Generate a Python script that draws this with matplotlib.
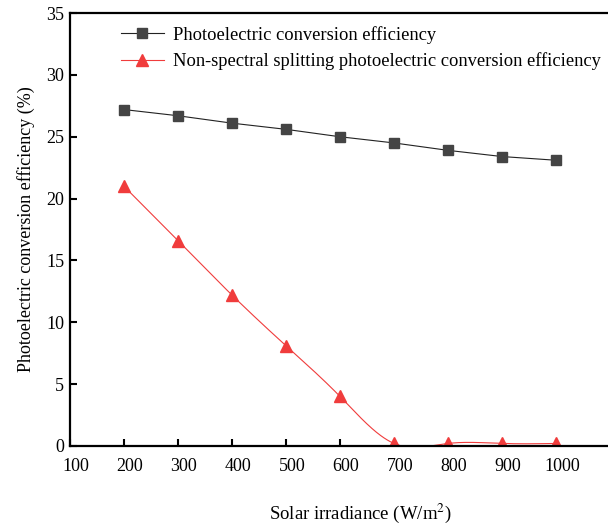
import numpy as np
import matplotlib
matplotlib.use('Agg')
import matplotlib.pyplot as plt
import matplotlib.transforms as mtransforms

plt.rcParams['font.family'] = ['Liberation Serif', 'DejaVu Serif']
plt.rcParams['mathtext.fontset'] = 'stix'

# data
irradiance = [200, 300, 400, 500, 600, 700, 800, 900, 1000]
pce = [27.2, 26.7, 26.1, 25.6, 25.0, 24.5, 23.9, 23.4, 23.1]
pce_nonsplit = [21.0, 16.6, 12.2, 8.1, 4.0, 0.2, 0.2, 0.2, 0.2]


def natural_spline(x, y, n=400):
    # plain natural cubic spline, used only to draw the smoothed red line
    x = np.asarray(x, float)
    y = np.asarray(y, float)
    k = len(x)
    h = np.diff(x)
    A = np.zeros((k, k))
    b = np.zeros(k)
    A[0, 0] = A[-1, -1] = 1
    for i in range(1, k - 1):
        A[i, i - 1] = h[i - 1]
        A[i, i] = 2 * (h[i - 1] + h[i])
        A[i, i + 1] = h[i]
        b[i] = 6 * ((y[i + 1] - y[i]) / h[i] - (y[i] - y[i - 1]) / h[i - 1])
    M = np.linalg.solve(A, b)
    xs = np.linspace(x[0], x[-1], n)
    idx = np.clip(np.searchsorted(x, xs) - 1, 0, k - 2)
    x0, x1 = x[idx], x[idx + 1]
    hh = x1 - x0
    t0, t1 = x1 - xs, xs - x0
    ys = (M[idx] * t0**3 + M[idx + 1] * t1**3) / (6 * hh) \
        + (y[idx] / hh - M[idx] * hh / 6) * t0 \
        + (y[idx + 1] / hh - M[idx + 1] * hh / 6) * t1
    return xs, ys


fig = plt.figure(figsize=(6.08, 5.24), dpi=100)
ax = fig.add_axes([0.115, 0.149, 0.885, 0.826])

ax.plot(irradiance, pce, color='#222222', lw=0.8, marker='s', ms=7,
        mfc='#444444', mec='#444444', label='Photoelectric conversion efficiency')

xs, ys = natural_spline(irradiance, pce_nonsplit)
ax.plot(xs, ys, color='#f03c3c', lw=0.8)
ax.plot(irradiance, pce_nonsplit, ls='none', marker='^', ms=9,
        color='#f03c3c')
# legend entry for the red series
ax.plot([], [], color='#f03c3c', lw=0.8, marker='^', ms=9,
        label='Non-spectral splitting photoelectric conversion efficiency')

ax.set_xlim(100, 1096)
ax.set_ylim(0, 35)
ax.set_xticks(range(100, 1001, 100))
ax.set_yticks(range(0, 36, 5))
ax.spines['right'].set_visible(False)
for s in ['left', 'bottom', 'top']:
    ax.spines[s].set_linewidth(1.6)
ax.tick_params(direction='in', length=5, width=1.5, labelsize=13,
               colors='black')
ax.tick_params(axis='x', pad=9)
ax.tick_params(axis='y', pad=4)

# x tick labels sit a little to the right of their ticks in the original
shift = mtransforms.ScaledTranslation(6 / 100, 0, fig.dpi_scale_trans)
for lab in ax.get_xticklabels():
    lab.set_transform(lab.get_transform() + shift)

ax.set_xlabel('Solar irradiance (W/m$^2$)', fontsize=13.5, labelpad=19,
              x=0.54)
ax.set_ylabel('Photoelectric conversion efficiency (%)', fontsize=13,
              labelpad=8)

ax.legend(loc='upper left', bbox_to_anchor=(0.071, 1.0), frameon=False,
          fontsize=13.3, handlelength=2.3, handletextpad=0.5,
          labelspacing=0.45, borderaxespad=0.3)

plt.savefig('out.png', dpi=100)
